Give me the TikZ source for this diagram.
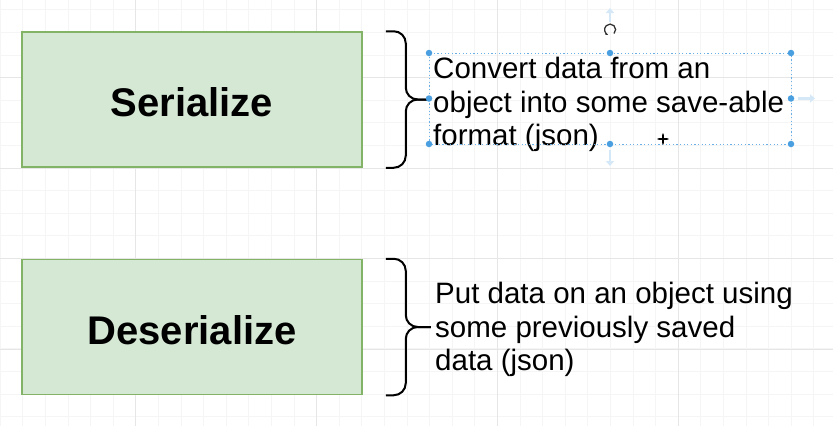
\documentclass[tikz,border=0pt]{standalone}
\usepackage{fontspec}
\setmainfont{Liberation Sans}
\usetikzlibrary{positioning, calc, arrows.meta}

\definecolor{boxfill}{HTML}{D5E8D4}
\definecolor{boxline}{HTML}{82B366}
\definecolor{gridminor}{HTML}{F5F5F5}
\definecolor{gridmajor}{HTML}{E6E6E6}
\definecolor{selblue}{HTML}{4A9FE0}
\definecolor{framblue}{HTML}{6AB0E8}
\definecolor{hintblue}{HTML}{D4E8F8}

\begin{document}
\begin{tikzpicture}[
    x=1pt, y=-1pt,
    term/.style={rectangle, draw=boxline, line width=1.5pt, fill=boxfill, minimum width=340pt, minimum height=135pt, text height=34pt, text depth=0pt, font=\fontsize{40}{48}\selectfont\bfseries},
    note/.style={inner sep=0pt, align=left, anchor=north west, font=\fontsize{29.5}{33.5}\selectfont},
    brace/.style={line width=2pt, rounded corners=12pt},
    handle/.style={circle, fill=selblue, inner sep=0pt, minimum size=6.5pt},
    hint/.style={hintblue, line width=2.5pt, -{Triangle[length=5pt,width=8pt]}}
]
% canvas and grid
\useasboundingbox (0,0) rectangle (833,426);
\fill[white] (0,0) rectangle (833,426);
\foreach \i in {0,...,36} \draw[gridminor] (22.6*\i,0) -- (22.6*\i,426);
\foreach \j in {0,...,18} \draw[gridminor] (0,9.6+22.6*\j) -- (833,9.6+22.6*\j);
\foreach \i in {0,...,3} \draw[gridmajor] (135.6+180.8*\i,0) -- (135.6+180.8*\i,426);
\foreach \j in {0,...,3} \draw[gridmajor] (0,77.5+90.4*\j) -- (833,77.5+90.4*\j);

% the two terms
\node[term] (ser) at (192,99.5) {Serialize};
\node[term, below=91pt of ser] (deser) {Deserialize};

% braces
\draw[brace] ($(ser.north east)+(23,0)$) -- ++(20,0) |- ($(ser.east)+(65,0)$);
\draw[brace] ($(ser.south east)+(23,0)$) -- ++(20,0) |- ($(ser.east)+(65,0)$);
\draw[brace] ($(deser.north east)+(23,0)$) -- ++(20,0) |- ($(deser.east)+(68,0)$);
\draw[brace] ($(deser.south east)+(23,0)$) -- ++(20,0) |- ($(deser.east)+(68,0)$);

% descriptions
\node[note] (sertext) at (433,57) {Convert data from an\\object into some save-able\\format (json)};
\node[note] (desertext) at (435,282) {Put data on an object using\\some previously saved\\data (json)};

% selection frame round the first description
\draw[framblue, line width=0.9pt, dash pattern=on 1.2pt off 2.4pt] (429,53) rectangle (791,144);
\foreach \hx/\hy [count=\k] in {429/53, 610/53, 791/53, 429/98.5, 791/98.5, 429/144, 610/144, 791/144}
    \node[handle] (handle\k) at (\hx,\hy) {};
\draw[hint] (610,22) -- (610,8);
\draw[hint] (610,150) -- (610,166);
\draw[hint] (798,98.5) -- (815,98.5);
\draw[black!80, line width=1.3pt, -{Stealth[length=3pt]}] (614,33.5) arc[start angle=45, end angle=-250, radius=5.5];
\draw[line width=1.2pt, {Stealth[length=2.5pt]}-{Stealth[length=2.5pt]}] (657,139) -- (669,139);
\draw[line width=1.2pt, {Stealth[length=2.5pt]}-{Stealth[length=2.5pt]}] (663,133) -- (663,145);
\end{tikzpicture}
\end{document}
